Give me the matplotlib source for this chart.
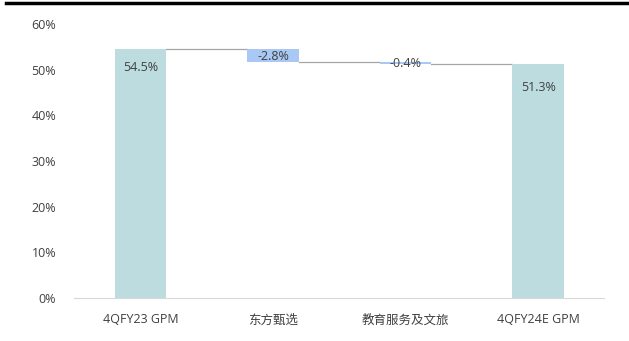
import matplotlib.pyplot as plt
from matplotlib.lines import Line2D

plt.rcParams['font.family'] = ['Open Sans', 'Noto Sans CJK SC', 'DejaVu Sans']

categories = ['4QFY23 GPM', '东方甄选', '教育服务及文旅', '4QFY24E GPM']
start_gpm = 54.5
changes = [-2.8, -0.4]
end_gpm = 51.3

total_color = '#bddcdf'
change_color = '#a9c9f4'
text_color = '#404040'

fig = plt.figure(figsize=(6.29, 3.41), dpi=100)
ax = fig.add_axes([0.118, 0.126, 0.843, 0.804])

width = 0.39
# totals
ax.bar(0, start_gpm, width, color=total_color, zorder=2)
ax.bar(3, end_gpm, width, color=total_color, zorder=2)
ax.text(0, start_gpm - 4.0, f'{start_gpm:.1f}%', ha='center', va='center',
        fontsize=9, color=text_color, zorder=4)
ax.text(3, end_gpm - 5.2, f'{end_gpm:.1f}%', ha='center', va='center',
        fontsize=9, color=text_color, zorder=4)

# floating change bars with connectors
level = start_gpm
for i, ch in enumerate(changes, start=1):
    new_level = level + ch
    ax.bar(i, -ch, width, bottom=new_level, color=change_color, zorder=2)
    ax.plot([i - 1 + width / 2, i - width / 2], [level, level],
            color='#a6a6a6', lw=0.9, zorder=1)
    ax.text(i, level + ch / 2 - 0.2, f'{ch:.1f}%', ha='center', va='center',
            fontsize=9, color=text_color, zorder=4)
    level = new_level
ax.plot([2 + width / 2, 3 - width / 2], [level, level],
        color='#a6a6a6', lw=0.9, zorder=1)

ax.set_xlim(-0.5, 3.5)
ax.set_ylim(0, 60)
ax.set_yticks(range(0, 61, 10))
ax.set_yticklabels([f'{v}%' for v in range(0, 61, 10)])
ax.set_xticks(range(len(categories)))
ax.set_xticklabels(categories)
ax.tick_params(length=0, labelsize=9, colors=text_color, pad=11)
ax.tick_params(axis='y', pad=13)
for s in ['top', 'right', 'left']:
    ax.spines[s].set_visible(False)
ax.spines['bottom'].set_color('#d9d9d9')

fig.add_artist(Line2D([0.01, 1.0], [0.99, 0.99], color='black', lw=2.5,
                      transform=fig.transFigure))

fig.savefig('out.png', dpi=100)
